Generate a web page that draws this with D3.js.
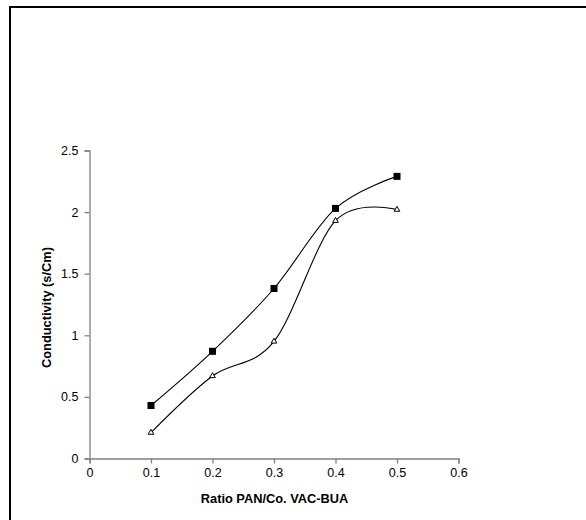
<!DOCTYPE html>
<html>
<head>
<meta charset="utf-8">
<script src="https://cdn.jsdelivr.net/npm/d3@7"></script>
<style>
  html, body { margin: 0; padding: 0; background: #fff; }
  svg { display: block; }
</style>
</head>
<body>
<svg id="chart" width="586" height="520"></svg>
<script>
const ratios = [0.1, 0.2, 0.3, 0.4, 0.5];
const seriesSquare = [0.43, 0.87, 1.38, 2.03, 2.29];
const seriesTriangle = [0.21, 0.67, 0.95, 1.93, 2.02];
const xTicks = [0, 0.1, 0.2, 0.3, 0.4, 0.5, 0.6];
const yTicks = [0, 0.5, 1, 1.5, 2, 2.5];
const xTitle = "Ratio PAN/Co. VAC-BUA";
const yTitle = "Conductivity (s/Cm)";

const svg = d3.select("#chart");
const font = "'Liberation Sans', Arial, Helvetica, sans-serif";

// frame (top and left edges visible)
svg.append("line").attr("x1", 10).attr("y1", 7).attr("x2", 586).attr("y2", 7)
  .attr("stroke", "#000").attr("stroke-width", 2);
svg.append("line").attr("x1", 10).attr("y1", 6).attr("x2", 10).attr("y2", 520)
  .attr("stroke", "#000").attr("stroke-width", 2);

const x = d3.scaleLinear().domain([0, 0.6]).range([89.5, 458.5]);
const y = d3.scaleLinear().domain([0, 2.5]).range([458.5, 150.5]);

const axisColor = "#808080";

// y axis
const yAxis = svg.append("g").attr("transform", `translate(${x(0)},0)`)
  .call(d3.axisLeft(y).tickValues(yTicks).tickSize(5).tickPadding(6).tickFormat(d3.format("")));
// x axis
const xAxis = svg.append("g").attr("transform", `translate(0,${y(0)})`)
  .call(d3.axisBottom(x).tickValues(xTicks).tickSize(5).tickPadding(5).tickFormat(d3.format("")));

[xAxis, yAxis].forEach(g => {
  g.select(".domain").attr("stroke", axisColor).attr("stroke-width", 1.3);
  g.selectAll(".tick line").attr("stroke", axisColor).attr("stroke-width", 1.3);
  g.selectAll(".tick text").attr("fill", "#000").attr("font-family", font).attr("font-size", 12.5);
});

// titles
svg.append("text").attr("x", (x(0) + x(0.6)) / 2 + 0.5).attr("y", 503)
  .attr("text-anchor", "middle").attr("font-family", font).attr("font-weight", "bold")
  .attr("font-size", 12.8).text(xTitle);
svg.append("text").attr("transform", `translate(50.5,${(y(0) + y(2.5)) / 2 + 3}) rotate(-90)`)
  .attr("text-anchor", "middle").attr("font-family", font).attr("font-weight", "bold")
  .attr("font-size", 12.8).text(yTitle);

const line = d3.line().x(d => x(d[0])).y(d => y(d[1])).curve(d3.curveCatmullRom.alpha(0));

const sqData = ratios.map((r, i) => [r, seriesSquare[i]]);
const trData = ratios.map((r, i) => [r, seriesTriangle[i]]);

svg.append("path").datum(sqData).attr("d", line).attr("fill", "none")
  .attr("stroke", "#000").attr("stroke-width", 1.1);
svg.append("path").datum(trData).attr("d", line).attr("fill", "none")
  .attr("stroke", "#000").attr("stroke-width", 1.1);

// markers
svg.selectAll(".sq").data(sqData).enter().append("rect")
  .attr("x", d => x(d[0]) - 3.5).attr("y", d => y(d[1]) - 3.5)
  .attr("width", 7).attr("height", 7).attr("fill", "#000");

const tri = d3.symbol().type(d3.symbolTriangle).size(14);
svg.selectAll(".tr").data(trData).enter().append("path")
  .attr("d", tri).attr("transform", d => `translate(${x(d[0])},${y(d[1])})`)
  .attr("fill", "#fff").attr("stroke", "#000").attr("stroke-width", 1);
</script>
</body>
</html>
